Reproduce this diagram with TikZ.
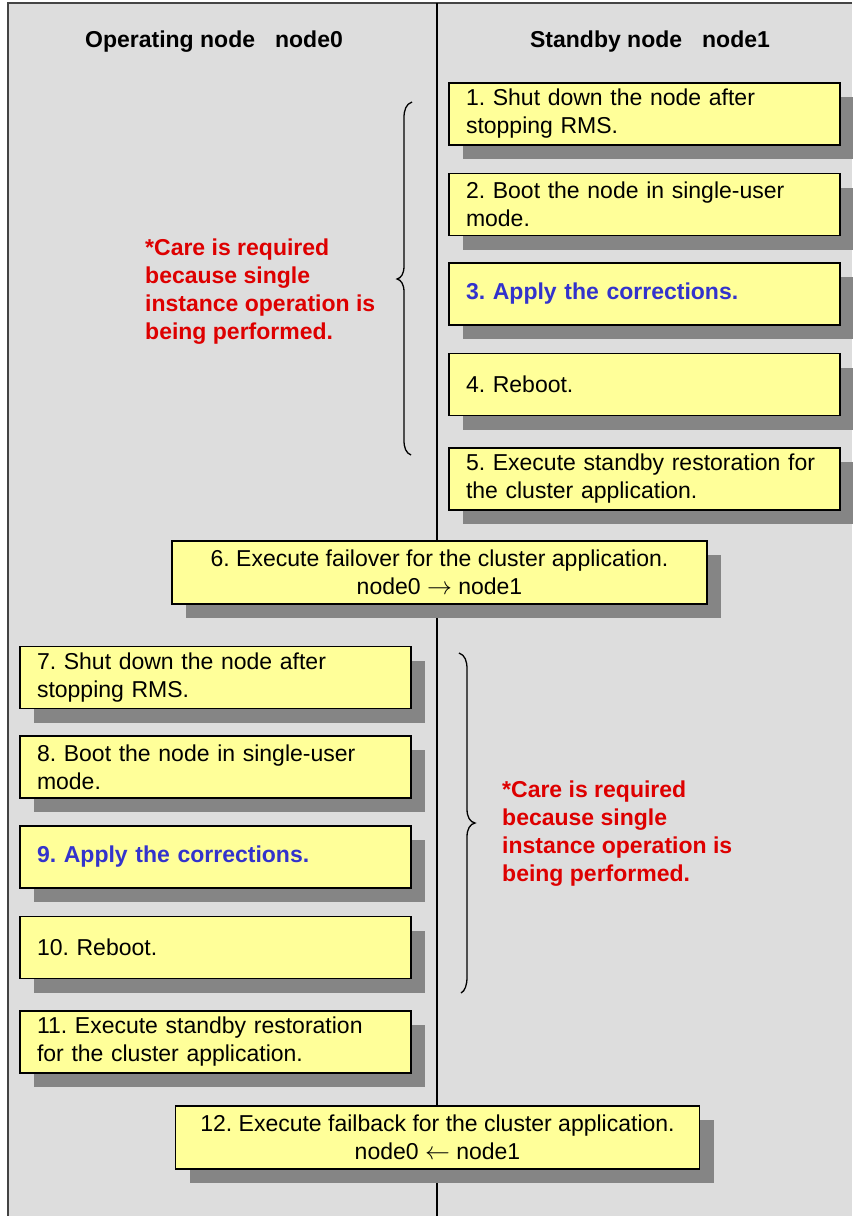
\documentclass[tikz,border=0pt]{standalone}
\usepackage{fontspec}
\setmainfont{Liberation Sans}
\usetikzlibrary{shadows}
\definecolor{bggray}{HTML}{DDDDDD}
\definecolor{framegray}{HTML}{444444}
\definecolor{boxyellow}{HTML}{FFFF99}
\definecolor{shadowgray}{HTML}{858585}
\definecolor{carered}{HTML}{DD0000}
\definecolor{applyblue}{HTML}{3333CC}
\frenchspacing
\newcommand{\rarr}{\raisebox{0.5pt}{$\rightarrow$}}
\newcommand{\larr}{\raisebox{0.5pt}{$\leftarrow$}}
\begin{document}
\frenchspacing
\begin{tikzpicture}[x=1pt,y=-1pt,
  txt/.style={font=\fontsize{23}{28}\selectfont},
  stepbox/.style={draw=black, line width=1.6pt, fill=boxyellow, inner xsep=17pt, inner ysep=0pt,
    minimum height=62pt, txt,
    drop shadow={shadow xshift=14pt, shadow yshift=-14pt, fill=shadowgray, opacity=1}},
  sidebox/.style={stepbox, minimum width=391pt, text width=357pt, align=left},
  widebox/.style={stepbox, align=center},
  header/.style={font=\bfseries\fontsize{23}{28}\selectfont, inner sep=0pt, anchor=base},
  care/.style={font=\bfseries\fontsize{23}{28}\selectfont, text=carered, align=left, inner sep=0pt, anchor=west},
  brace/.style={draw=black, line width=1.3pt},
  applytxt/.style={text=applyblue, font=\bfseries\fontsize{23}{28}\selectfont}
]
\useasboundingbox (0,0) rectangle (852,1216);
% background frame
\fill[bggray] (8,3) rectangle (852,1216);
\draw[framegray, line width=2pt] (8,1216) -- (8,3) -- (852,3);
% divider
\draw[black, line width=1.8pt] (437,3) -- (437,1216);
% headers
\node[header] (h0) at (214,47) {Operating node\hspace{20pt}node0};
\node[header] (h1) at (650,47) {Standby node\hspace{20pt}node1};
% standby node steps
\node[sidebox] (s1) at (644.5,114) {1. Shut down the node after\\stopping RMS.};
\node[sidebox] (s2) at (644.5,204.5) {2. Boot the node in single-user\\mode.};
\node[sidebox, applytxt] (s3) at (644.5,294) {3. Apply the corrections.};
\node[sidebox] (s4) at (644.5,384.5) {4. Reboot.};
\node[sidebox] (s5) at (644.5,479) {5. Execute standby restoration for\\the cluster application.};
% failover
\node[widebox, minimum width=535pt, minimum height=63pt] (s6) at (439.5,572.5) {6. Execute failover for the cluster application.\\node0 \rarr{} node1};
% operating node steps
\node[sidebox] (s7) at (215.5,677.5) {7. Shut down the node after\\stopping RMS.};
\node[sidebox] (s8) at (215.5,767) {8. Boot the node in single-user\\mode.};
\node[sidebox, applytxt] (s9) at (215.5,857) {9. Apply the corrections.};
\node[sidebox] (s10) at (215.5,947.5) {10. Reboot.};
\node[sidebox] (s11) at (215.5,1042) {11. Execute standby restoration\\for the cluster application.};
% failback
\node[widebox, minimum width=524pt, minimum height=63pt] (s12) at (437.5,1137.5) {12. Execute failback for the cluster application.\\node0 \larr{} node1};
% braces
\draw[brace] (412,102) .. controls (406,104) and (404,110) .. (404,118) -- (404,266)
  .. controls (404,274) and (401,278) .. (397,279) .. controls (401,280) and (404,284) .. (404,292)
  -- (404,440) .. controls (404,448) and (406,453) .. (411,455);
\draw[brace] (459,653) .. controls (465,655) and (467,661) .. (467,669) -- (467,809)
  .. controls (467,817) and (470,822) .. (475,823) .. controls (470,824) and (467,829) .. (467,837)
  -- (467,977) .. controls (467,985) and (465,991) .. (461,993);
% care notes
\node[care] (c1) at (145,292) {*Care is required\\because single\\instance operation is\\being performed.};
\node[care] (c2) at (502,834) {*Care is required\\because single\\instance operation is\\being performed.};
\end{tikzpicture}
\end{document}
